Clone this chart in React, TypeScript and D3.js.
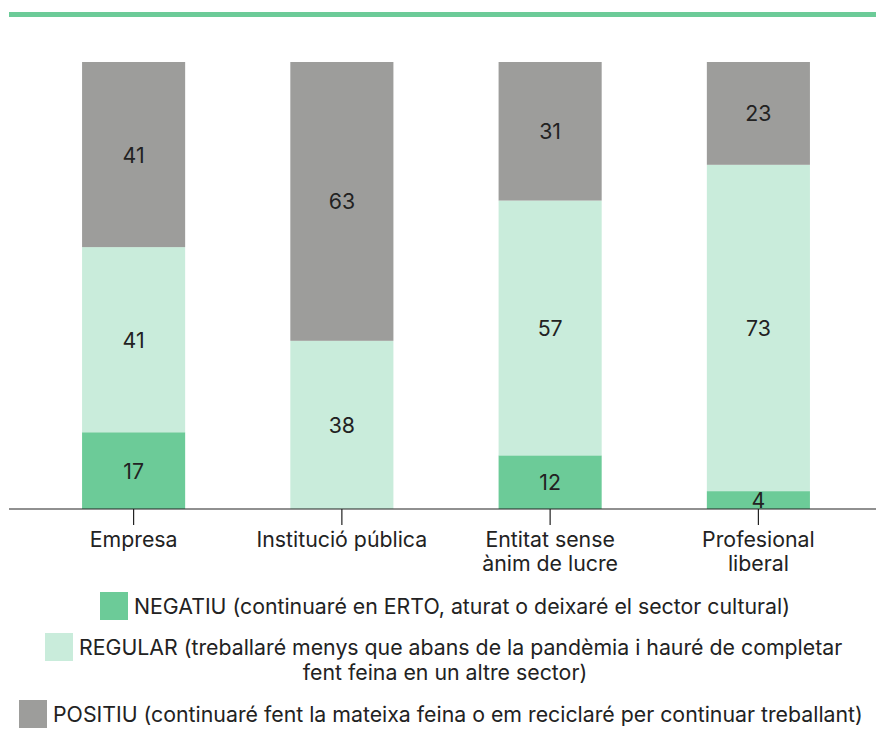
import React from "react";
import * as d3 from "d3";

const categories = ["Empresa", "Institució pública", "Entitat sense ànim de lucre", "Profesional liberal"];
const categoryLines = [["Empresa"], ["Institució pública"], ["Entitat sense", "ànim de lucre"], ["Profesional", "liberal"]];
const seriesKeys = ["negatiu", "regular", "positiu"];
const negatiu = [17, 0, 12, 4];
const regular = [41, 38, 57, 73];
const positiu = [41, 63, 31, 23];
const colors = ["#6ccb98", "#c9ecdb", "#9d9d9b"];
const legendLines = [
  ["NEGATIU (continuaré en ERTO, aturat o deixaré el sector cultural)"],
  ["REGULAR (treballaré menys que abans de la pandèmia i hauré de completar", "fent feina en un altre sector)"],
  ["POSITIU (continuaré fent la mateixa feina o em reciclaré per continuar treballant)"],
];

const W = 876;
const H = 747;
const FONT = "Inter, Roboto, 'Noto Sans', sans-serif";
const FS = 21.3;

export default function App() {
  const rows = categories.map((c, i) => ({ cat: c, negatiu: negatiu[i], regular: regular[i], positiu: positiu[i] }));
  const stack = d3.stack<any>().keys(seriesKeys).offset(d3.stackOffsetExpand);
  const series = stack(rows);
  const x = d3.scaleBand<string>().domain(categories).range([30, 862]).paddingInner(0.505).paddingOuter(0.25);
  const y = d3.scaleLinear().domain([0, 1]).range([509, 62]);
  const legendY = [606, 647, 714];
  const legendSwatchX = [100, 45, 19];

  return (
    <svg width={W} height={H} style={{ position: "absolute", left: 0, top: 0, display: "block", background: "#fff" }} fontFamily={FONT}>
      <line x1={9} x2={W} y1={14.5} y2={14.5} stroke="#6ccb98" strokeWidth={5} />
      {series.map((s, si) => (
        <g key={s.key}>
          {s.map((d: any, i: number) => {
            const y0 = y(d[0]);
            const y1 = y(d[1]);
            const v = (d.data as any)[s.key];
            return (
              <g key={i}>
                <rect x={x(d.data.cat)} y={y1} width={x.bandwidth()} height={Math.max(0, y0 - y1)} fill={colors[si]} />
                {v > 0 && (
                  <text x={x(d.data.cat)! + x.bandwidth() / 2} y={(y0 + y1) / 2} textAnchor="middle" dominantBaseline="central" fontSize={FS} fill="#222">
                    {v}
                  </text>
                )}
              </g>
            );
          })}
        </g>
      ))}
      <line x1={9} x2={W} y1={509} y2={509} stroke="#222" strokeWidth={1.2} />
      {categories.map((c, i) => {
        const cx = x(c)! + x.bandwidth() / 2;
        return (
          <g key={c}>
            <line x1={cx} x2={cx} y1={509} y2={525} stroke="#222" strokeWidth={1.2} />
            {categoryLines[i].map((l, li) => (
              <text key={li} x={cx} y={539 + li * 24} textAnchor="middle" dominantBaseline="central" fontSize={FS} fill="#222">
                {l}
              </text>
            ))}
          </g>
        );
      })}
      {legendLines.map((lines, i) => (
        <g key={i}>
          <rect x={legendSwatchX[i]} y={legendY[i] - 14} width={28} height={28} fill={colors[i]} />
          {lines.map((l, li) =>
            li === 0 ? (
              <text key={li} x={legendSwatchX[i] + 34} y={legendY[i]} dominantBaseline="central" fontSize={FS} fill="#222">
                {l}
              </text>
            ) : (
              <text key={li} x={445} y={legendY[i] + li * 25} textAnchor="middle" dominantBaseline="central" fontSize={FS} fill="#222">
                {l}
              </text>
            )
          )}
        </g>
      ))}
    </svg>
  );
}
